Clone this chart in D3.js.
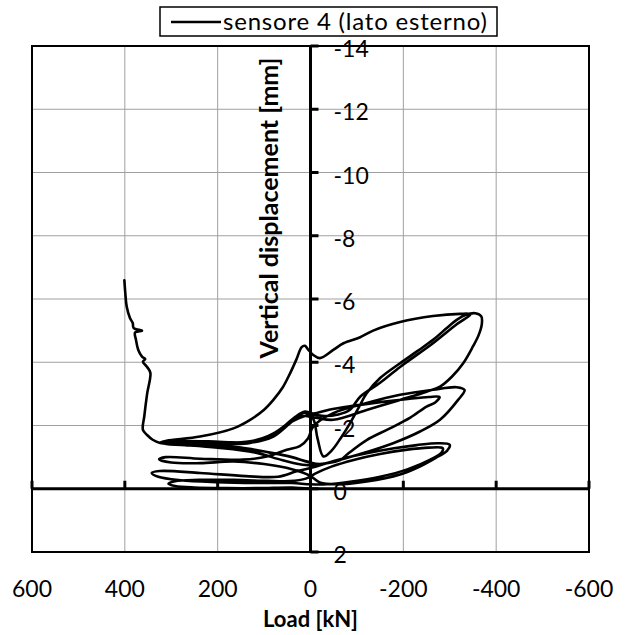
<!DOCTYPE html>
<html>
<head>
<meta charset="utf-8">
<script src="https://cdn.jsdelivr.net/npm/d3@7/dist/d3.min.js"></script>
<style>
  html, body { margin: 0; padding: 0; background: #fff; }
  svg { display: block; }
  text { font-family: Lato, "Open Sans", sans-serif; fill: #000; }
</style>
</head>
<body>
<svg id="chart" width="628" height="635"></svg>
<script>
// Load–displacement record of sensor 4 (outer side), in path order.
const loadKN = [
  0,
  40, 110, 180, 250, 292, 306, 292, 240, 166, 94, 45, 10,
  -10, -45, -95, -150, -205, -255, -285, -282, -258, -210, -150, -85, -35, 0,
  40, 100, 202, 280, 328, 342, 325, 238, 140, 70, 30, -6,
  -50, -121, -180, -229, -275, -300, -294, -270, -232, -193, -121, -56, -20, 2,
  40, 100, 166, 238, 300, 326, 312, 238, 145, 94, 51, 23, 5, -6,
  -49, -121, -193, -264, -315, -332, -318, -279, -236, -178, -121, -64, -20, 5,
  40, 90, 150, 220, 290, 322, 300, 220, 150, 110, 80, 50, 30, 12, -6,
  -40, -90, -150, -210, -255, -278, -268, -250, -215, -170, -121, -80, -64,
  -30, 10, 60, 120, 200, 270, 315, 300, 230, 160, 120, 85, 55, 30, 10, -6,
  -15, -28, -45, -65, -85, -105, -121, -150, -193, -230, -264, -295, -315, -335, -355, -368, -369, -362,
  -350, -329, -305, -279, -250, -193, -121, -49,
  -10, 23, 50, 85, 130, 200, 280, 324,
  310, 238, 166, 130, 100, 80, 60, 44, 30, 19, 12, 5, -6, -20,
  -49, -71, -107, -135, -193, -264, -322, -345,
  -315, -264, -193, -150, -107, -85, -60, -30, 0,
  37, 80, 130, 200, 270, 324, 340, 352, 361,
  358, 352, 345, 352, 361, 356, 363, 371, 376, 378, 363, 381, 383, 389, 396, 399, 401
];
const dispMM = [
  0,
  -0.04, -0.02, -0.02, -0.04, -0.09, -0.16, -0.24, -0.28, -0.28, -0.25, -0.24, -0.32,
  -0.48, -0.7, -0.92, -1.1, -1.23, -1.3, -1.28, -1.14, -0.92, -0.62, -0.38, -0.22, -0.14, -0.14,
  -0.18, -0.18, -0.21, -0.27, -0.38, -0.5, -0.56, -0.5, -0.4, -0.38, -0.55, -0.68,
  -0.88, -1.12, -1.28, -1.38, -1.44, -1.39, -1.2, -0.98, -0.68, -0.45, -0.23, -0.14, -0.2, -0.42,
  -0.62, -0.78, -0.86, -0.81, -0.83, -0.93, -1.0, -0.95, -0.92, -1.02, -1.23, -1.35, -1.6, -1.97,
  -2.39, -2.71, -2.97, -3.13, -3.21, -3.12, -2.81, -2.18, -1.81, -1.44, -1.16, -0.92, -0.78, -0.85,
  -1.0, -1.15, -1.3, -1.38, -1.4, -1.45, -1.5, -1.5, -1.45, -1.5, -1.65, -2.0, -2.3, -2.44, -2.38,
  -2.5, -2.62, -2.74, -2.84, -2.9, -2.9, -2.72, -2.6, -2.25, -1.9, -1.54, -1.1, -0.91,
  -0.8, -0.75, -0.9, -1.15, -1.3, -1.38, -1.42, -1.47, -1.46, -1.42, -1.5, -1.7, -2.0, -2.3, -2.4, -2.2,
  -1.6, -1.02, -1.2, -1.6, -2.07, -2.6, -3.02, -3.5, -3.97, -4.35, -4.71, -5.1, -5.34, -5.5, -5.55, -5.45, -5.2, -4.85,
  -4.5, -3.97, -3.55, -3.23, -3.07, -2.81, -2.49, -2.18,
  -2.25, -2.3, -2.0, -1.7, -1.5, -1.45, -1.43, -1.46,
  -1.52, -1.65, -1.91, -2.18, -2.5, -2.81, -3.2, -3.65, -4.1, -4.48, -4.52, -4.4, -4.23, -4.13,
  -4.39, -4.6, -4.79, -5.0, -5.27, -5.46, -5.53, -5.52,
  -5.2, -4.6, -3.85, -3.35, -2.91, -2.5, -2.35, -2.3, -2.35,
  -2.15, -1.75, -1.45, -1.42, -1.4, -1.45, -1.55, -1.7, -1.86,
  -2.3, -3.0, -3.67, -3.85, -4.02, -4.10, -4.18, -4.39, -4.71, -4.94, -5.0, -5.08, -5.24, -5.40, -5.76, -6.19, -6.59
];
const xTicks = [600, 400, 200, 0, -200, -400, -600];
const yTicks = [2, 0, -2, -4, -6, -8, -10, -12, -14];
const seriesName = "sensore 4 (lato esterno)";
const xTitle = "Load [kN]";
const yTitle = "Vertical displacement [mm]";

const svg = d3.select("#chart");
const plot = { left: 32, right: 589, top: 46, bottom: 552 };

const x = d3.scaleLinear().domain([600, -600]).range([plot.left, plot.right]);
const y = d3.scaleLinear().domain([2, -14]).range([plot.bottom, plot.top]);

svg.append("rect").attr("width", 628).attr("height", 635).attr("fill", "#fff");

// gridlines
const grid = svg.append("g").attr("stroke", "#a0a0a0").attr("stroke-width", 1);
grid.selectAll("line.v").data(xTicks).join("line")
  .attr("x1", d => x(d)).attr("x2", d => x(d))
  .attr("y1", plot.top).attr("y2", plot.bottom);
grid.selectAll("line.h").data(yTicks).join("line")
  .attr("x1", plot.left).attr("x2", plot.right)
  .attr("y1", d => y(d)).attr("y2", d => y(d));

// plot frame
svg.append("rect")
  .attr("x", plot.left).attr("y", plot.top)
  .attr("width", plot.right - plot.left).attr("height", plot.bottom - plot.top)
  .attr("fill", "none").attr("stroke", "#000").attr("stroke-width", 2);

// axes crossing at zero
const x0 = x(0), y0 = y(0);
svg.append("line").attr("x1", plot.left).attr("x2", plot.right)
  .attr("y1", y0).attr("y2", y0).attr("stroke", "#000").attr("stroke-width", 3);
svg.append("line").attr("x1", x0).attr("x2", x0)
  .attr("y1", plot.top).attr("y2", plot.bottom).attr("stroke", "#000").attr("stroke-width", 3);

// tick marks
svg.append("g").selectAll("line").data(yTicks).join("line")
  .attr("x1", x0).attr("x2", x0 + 8)
  .attr("y1", d => y(d)).attr("y2", d => y(d))
  .attr("stroke", "#000").attr("stroke-width", 3);
svg.append("g").selectAll("line").data(xTicks).join("line")
  .attr("x1", d => x(d)).attr("x2", d => x(d))
  .attr("y1", y0).attr("y2", y0 - 8)
  .attr("stroke", "#000").attr("stroke-width", 3);

// curve
const pts = loadKN.map((v, i) => [v, dispMM[i]]);
const line = d3.line().x(d => x(d[0])).y(d => y(d[1])).curve(d3.curveCatmullRom.alpha(0.5));
svg.append("path").attr("d", line(pts))
  .attr("fill", "none").attr("stroke", "#000").attr("stroke-width", 2.6)
  .attr("stroke-linejoin", "round").attr("stroke-linecap", "round");

// tick labels
svg.append("g").selectAll("text").data(yTicks).join("text")
  .attr("x", x0 + 23).attr("y", d => y(d) + 2)
  .attr("dominant-baseline", "central")
  .attr("font-size", 23)
  .text(d => d);
svg.append("g").selectAll("text").data(xTicks).join("text")
  .attr("x", d => x(d)).attr("y", 588)
  .attr("text-anchor", "middle").attr("dominant-baseline", "central")
  .attr("font-size", 23)
  .text(d => d);

// axis titles
svg.append("text").attr("x", x0).attr("y", 618)
  .attr("text-anchor", "middle").attr("dominant-baseline", "central")
  .attr("font-size", 22).attr("font-weight", "bold").text(xTitle);
svg.append("text")
  .attr("transform", `translate(268,208) rotate(-90)`)
  .attr("text-anchor", "middle").attr("dominant-baseline", "central")
  .attr("font-size", 25).attr("font-weight", "bold").text(yTitle);

// legend
const lg = svg.append("g");
lg.append("rect").attr("x", 160).attr("y", 7).attr("width", 337).attr("height", 29)
  .attr("fill", "#fff").attr("stroke", "#000").attr("stroke-width", 1.5);
lg.append("line").attr("x1", 171).attr("x2", 221).attr("y1", 22).attr("y2", 22)
  .attr("stroke", "#000").attr("stroke-width", 2.6);
lg.append("text").attr("x", 223).attr("y", 20)
  .attr("dominant-baseline", "central").attr("font-size", 24)
  .attr("letter-spacing", 0.8).text(seriesName);
</script>
</body>
</html>
